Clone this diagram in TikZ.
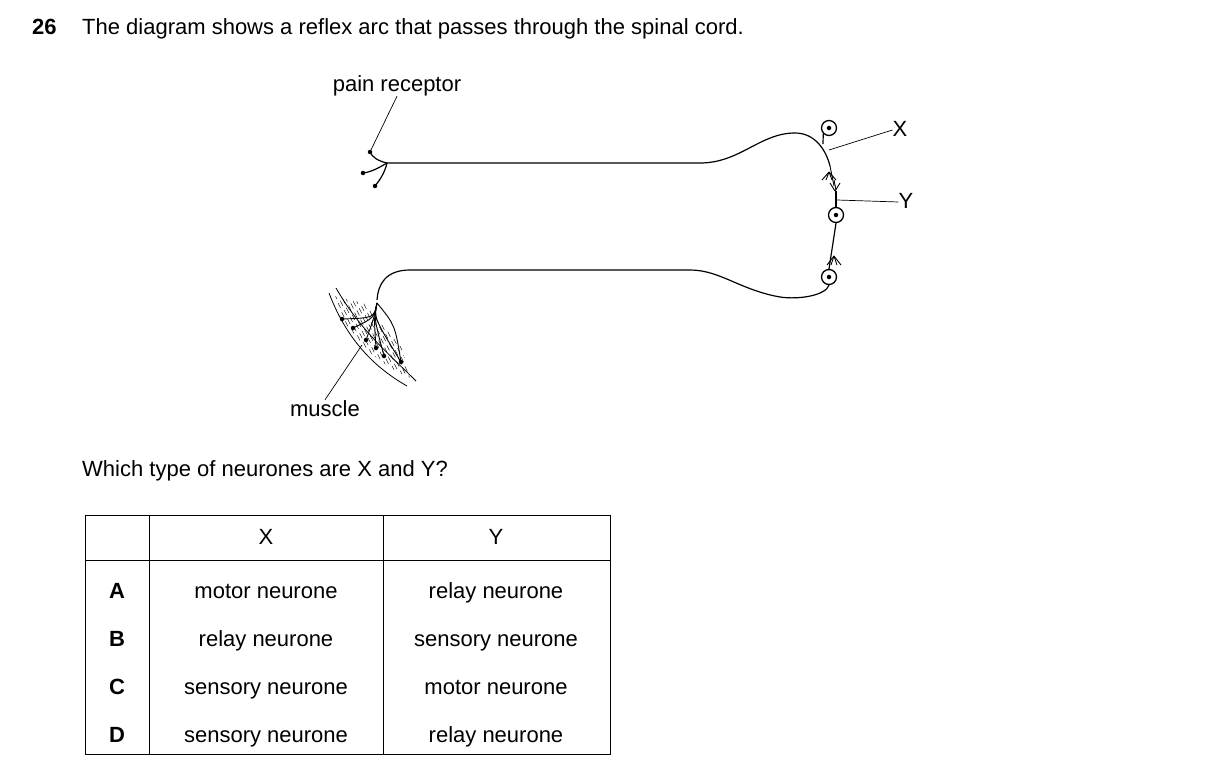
\documentclass[tikz,border=0pt]{standalone}
\usepackage{fontspec}
\setmainfont{Liberation Sans}
\begin{document}
\begin{tikzpicture}[x=1pt,y=-1pt,
  txt/.style={font=\fontsize{22}{26}\selectfont,inner sep=0pt,text height=16pt,text depth=4pt},
  nerve/.style={line width=1.2pt},
  lbl/.style={line width=0.7pt},
  cell/.style={circle,draw,line width=1.3pt,minimum size=15pt,inner sep=0pt},
  dotn/.style={circle,fill,inner sep=0pt,minimum size=4.5pt},
  tbl/.style={line width=0.8pt}]
\useasboundingbox (0,0) rectangle (1209,773);
% title
\node[txt,font=\fontsize{22}{26}\selectfont\bfseries,anchor=west] (num) at (32,29) {26};
\node[txt,anchor=west] (title) at (82,29) {The diagram shows a reflex arc that passes through the spinal cord.};
\node[txt] (pr) at (397,86) {pain receptor};
\node[txt] (mu) at (325,410) {muscle};
\node[txt] (lx) at (900,130) {X};
\node[txt] (ly) at (906,202) {Y};
% cell bodies
\node[cell] (cx) at (829,128) {}; \node[dotn] at (cx) {};
\node[cell] (cy) at (836,215) {}; \node[dotn] at (cy) {};
\node[cell] (cm) at (829,277) {}; \node[dotn] at (cm) {};
% sensory neurone
\coordinate (rec) at (387,163);
\draw[nerve] (rec) -- (700,163) .. controls (740,163) and (760,133) .. (795,133) .. controls (815,133) and (826,150) .. (830,166);
\draw[nerve] (823,144) -- (cx.south west);
\coordinate (sx) at (829,150);
\draw[lbl] (sx) -- (lx.west);
% synapse arrowheads
\draw[line width=0.9pt] (830,166) -- (834,186);
\foreach \dx in {-7,-3,3,7} \draw[line width=0.9pt] (829,172) -- ++(\dx,8);
\draw[line width=0.9pt] (834,180) -- (836,190);
\foreach \dx in {-5,5} \draw[line width=0.9pt] (835,191) -- ++(\dx,-8);
\draw[nerve] (836,191) -- (cy.north);
\coordinate (sy) at (837,200);
\draw[lbl] (sy) -- (ly.west);
% relay to motor
\draw[nerve] (cy.south) -- (cm.north);
\foreach \dx in {-7,-3,3,7} \draw[line width=0.9pt] (834,256) -- ++(\dx,9);
% motor neurone
\draw[nerve] (cm.south) .. controls (826,295) and (800,300) .. (780,297) .. controls (740,290) and (720,270) .. (690,270) -- (410,270) .. controls (385,270) and (378,285) .. (377,300);
% receptor endings
\draw[nerve] (rec) .. controls (378,161) and (372,157) .. (370,152);
\draw[nerve] (rec) .. controls (380,167) and (372,172) .. (363,173);
\draw[nerve] (rec) .. controls (385,172) and (380,180) .. (375,186);
\node[dotn] at (370,152) {}; \node[dotn] at (363,173) {}; \node[dotn] at (375,186) {};
\draw[lbl] (370,152) -- (pr.south);
% muscle
\draw[line width=0.8pt] (329,293) .. controls (345,335) and (370,365) .. (407,386);
\draw[line width=0.8pt] (336,288) .. controls (360,330) and (390,355) .. (416,381);
\begin{scope}
\clip (334,296) .. controls (350,300) and (375,305) .. (385,310) .. controls (398,330) and (405,360) .. (411,378) .. controls (390,370) and (360,350) .. (340,315) -- cycle;
\foreach \t in {0,1,...,14}{
  \foreach \k in {-6,...,6}{
    \draw[line width=0.45pt] ({332+\t*6+\k*2.3},{296+\t*7-\k*2.2}) -- ++(2.5,5);
  }
}
\end{scope}
\coordinate (mj) at (377,303);
\foreach \p in {(342,319),(353,328),(366,340),(376,348),(384,356),(401,362)}{
  \draw[line width=0.9pt] (mj) .. controls (374,318) .. \p;
  \node[dotn] at \p {};
}
\draw[line width=0.9pt] (mj) .. controls (395,325) .. (401,362);
\draw[lbl] (362,345) -- (mu.north);
% question
\node[txt,anchor=west] (q) at (82,470) {Which type of neurones are X and Y?};
% table
\draw[tbl] (85,515) rectangle (610,754);
\draw[tbl] (85,560) -- (610,560);
\draw[tbl] (149,515) -- (149,754);
\draw[tbl] (383,515) -- (383,754);
\node[txt] (hx) at (266,538) {X};
\node[txt] (hy) at (496,538) {Y};
\foreach \l/\a/\b/\y in {A/motor neurone/relay neurone/592,B/relay neurone/sensory neurone/640,C/sensory neurone/motor neurone/688,D/sensory neurone/relay neurone/736}{
  \node[txt,font=\fontsize{22}{26}\selectfont\bfseries] at (117,\y) {\l};
  \node[txt] at (266,\y) {\a};
  \node[txt] at (496,\y) {\b};
}
\end{tikzpicture}
\end{document}
